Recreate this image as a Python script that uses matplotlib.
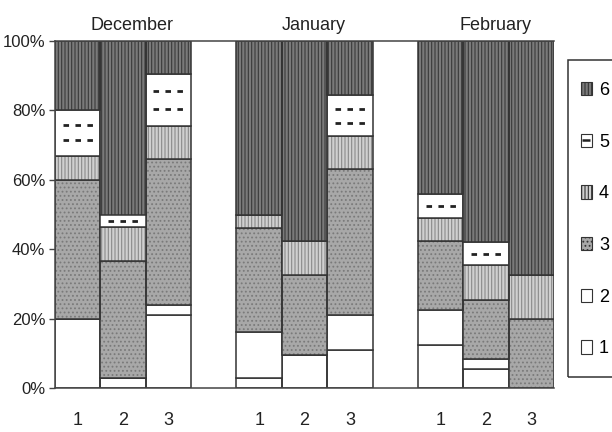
import numpy as np
import matplotlib.pyplot as plt
from matplotlib.patches import Patch, Rectangle
from matplotlib.lines import Line2D

plt.rcParams['font.family'] = ['Liberation Sans', 'DejaVu Sans']
plt.rcParams['hatch.linewidth'] = 0.8

months = ["December", "January", "February"]
bar_labels = ["1", "2", "3"]
categories = ["1", "2", "3", "4", "5", "6"]

# percent share of each category; bars: Dec 1-3, Jan 1-3, Feb 1-3
cat1 = [20, 3, 21, 3, 9.5, 11, 12.5, 5.5, 0]
cat2 = [0, 0, 3, 13, 0, 10, 10, 3, 0]
cat3 = [40, 33.5, 42, 30, 23, 42, 20, 17, 20]
cat4 = [7, 10, 9.5, 4, 10, 9.5, 6.5, 10, 12.5]
cat5 = [13, 3.5, 15, 0, 0, 12, 7, 6.5, 0]
cat6 = [20, 50, 9.5, 50, 57.5, 15.5, 44, 58, 67.5]

series = [cat1, cat2, cat3, cat4, cat5, cat6]
# (face, hatch, hatch colour) per category
styles = [
    ("white", None, "white"),
    ("white", None, "white"),
    ("#a8a8a8", "....", "#7a7a7a"),
    ("#d0d0d0", "|||||", "#8a8a8a"),
    ("white", None, "white"),
    ("#7a7a7a", "|||||", "#3a3a3a"),
]
outline = "#333333"


def main():
    fig = plt.figure(figsize=(6.12, 4.32), dpi=100)
    ax = fig.add_axes([55 / 612, 1 - 388 / 432, 499 / 612, 347 / 432])

    # three bars per month, one empty slot between months
    x = np.array([g * 4 + i for g in range(3) for i in range(3)])
    bottom = np.zeros(len(x))
    for vals, (face, hatch, hcol) in zip(series, styles):
        vals = np.array(vals, dtype=float)
        ax.bar(x, vals, 1.0, bottom=bottom, color=face, edgecolor=hcol,
               hatch=hatch, linewidth=0)
        ax.bar(x, vals, 1.0, bottom=bottom, fill=False, edgecolor=outline,
               linewidth=1.1)
        bottom += vals

    # dashed marks inside category 5 segments
    base5 = np.array(cat1) + np.array(cat2) + np.array(cat3) + np.array(cat4)
    for xi, b, v in zip(x, base5, cat5):
        if v <= 0:
            continue
        rows = [b + v / 3, b + 2 * v / 3] if v >= 10 else [b + v / 2]
        ax.hlines(rows, xi - 0.33, xi + 0.33, colors="#222222", linewidth=2,
                  linestyles=(0, (2, 2.3)))

    ax.set_xlim(-0.5, 10.5)
    ax.set_ylim(0, 100)
    ax.set_yticks(range(0, 101, 20))
    ax.set_yticklabels([f"{v}%" for v in range(0, 101, 20)], fontsize=12,
                       color="#222222")
    ax.set_xticks(x)
    ax.set_xticklabels(bar_labels * 3, fontsize=13, color="#222222")
    ax.tick_params(axis="x", length=0, pad=17)
    ax.tick_params(axis="y", length=4, width=1, color="#444444", pad=3)
    for s in ax.spines.values():
        s.set_color("#444444")
        s.set_linewidth(1.1)
    ax.spines["right"].set_visible(False)

    tr = ax.get_xaxis_transform()
    for g, m in enumerate(months):
        ax.text(g * 4 + 1.2, 1.046, m, transform=tr, ha="center", va="center",
                fontsize=13, color="#222222")

    handles = []
    for face, hatch, hcol in styles:
        handles.append(Patch(facecolor=face, edgecolor=outline, hatch=hatch,
                             linewidth=0.8))
    # category 5 key: white box with one dash
    dash = Line2D([], [], marker="_", markersize=6, markeredgewidth=1.8,
                  color="#222222", linestyle="none")
    handles[4] = (Patch(facecolor="white", edgecolor=outline, linewidth=0.8),
                  dash)
    fig.legend(handles[::-1], categories[::-1], loc="upper left",
               bbox_to_anchor=(581 / 612, 1 - 82 / 432), fontsize=13,
               frameon=False, handlelength=0.6, handleheight=0.75,
               handletextpad=0.4, labelspacing=1.92, borderpad=0,
               borderaxespad=0)
    # legend box runs off the right edge, as in the scanned original
    fig.patches.append(Rectangle((568 / 612, 1 - 377 / 432), 0.2, 317 / 432,
                                 transform=fig.transFigure, fill=False,
                                 edgecolor="#333333", linewidth=1.1))

    fig.savefig("out.png", dpi=100)


if __name__ == '__main__':
    main()
